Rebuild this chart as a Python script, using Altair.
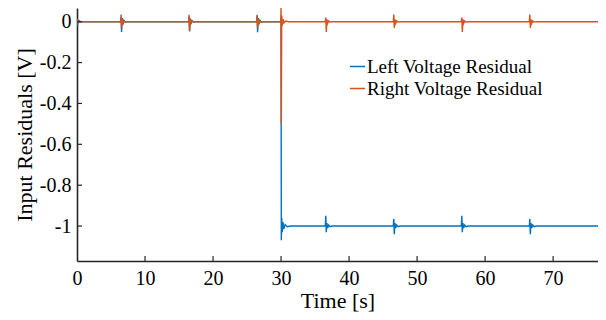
import altair as alt
import pandas as pd

# ---- data ----
left_t = [0, 0.1, 0.25, 0.5,
          6.4, 6.48, 6.55, 6.65, 6.75, 6.9, 7.1, 7.4,
          16.4, 16.48, 16.55, 16.65, 16.75, 16.9, 17.1, 17.4,
          26.4, 26.48, 26.55, 26.65, 26.75, 26.9, 27.1, 27.4,
          29.95, 30.0, 30.04, 30.1, 30.18, 30.28, 30.4, 30.6, 30.9, 31.4,
          36.5, 36.58, 36.65, 36.75, 36.85, 37.0, 37.2, 37.5,
          46.5, 46.58, 46.65, 46.75, 46.85, 47.0, 47.2, 47.5,
          56.5, 56.58, 56.65, 56.75, 56.85, 57.0, 57.2, 57.5,
          66.5, 66.58, 66.65, 66.75, 66.85, 67.0, 67.2, 67.5,
          76.6]
left_v = [0, -0.012, 0.006, 0,
          0, 0.02, -0.05, 0.018, -0.014, 0.007, -0.003, 0,
          0, 0.025, -0.048, 0.016, -0.012, 0.006, -0.002, 0,
          0, 0.03, -0.052, 0.018, -0.013, 0.007, -0.003, 0,
          0, 0.02, -1.07, -0.96, -1.03, -0.98, -1.015, -0.993, -1.003, -1.0,
          -1.0, -0.95, -1.03, -0.985, -1.01, -0.995, -1.003, -1.0,
          -1.0, -0.965, -1.04, -0.985, -1.01, -0.995, -1.003, -1.0,
          -1.0, -0.95, -1.03, -0.985, -1.01, -0.995, -1.003, -1.0,
          -1.0, -0.965, -1.04, -0.985, -1.01, -0.995, -1.003, -1.0,
          -1.0]

right_t = [0, 0.1, 0.25, 0.5,
           6.4, 6.48, 6.55, 6.65, 6.75, 6.9, 7.1, 7.4,
           16.4, 16.48, 16.55, 16.65, 16.75, 16.9, 17.1, 17.4,
           26.4, 26.48, 26.55, 26.65, 26.75, 26.9, 27.1, 27.4,
           29.95, 30.0, 30.04, 30.1, 30.18, 30.3, 30.45, 30.7, 31.1,
           36.5, 36.58, 36.65, 36.75, 36.85, 37.0, 37.2, 37.5,
           46.5, 46.58, 46.65, 46.75, 46.85, 47.0, 47.2, 47.5,
           56.5, 56.58, 56.65, 56.75, 56.85, 57.0, 57.2, 57.5,
           66.5, 66.58, 66.65, 66.75, 66.85, 67.0, 67.2, 67.5,
           76.6]
right_v = [0, 0.008, -0.004, 0,
           0, 0.035, -0.03, 0.012, -0.008, 0.004, -0.002, 0,
           0, 0.034, -0.045, 0.012, -0.008, 0.004, -0.002, 0,
           0, 0.034, -0.03, 0.012, -0.008, 0.004, -0.002, 0,
           0, 0.07, -0.5, 0.03, -0.02, 0.012, -0.006, 0.003, 0,
           0, 0.02, -0.05, 0.012, -0.008, 0.004, -0.002, 0,
           0, 0.035, -0.03, 0.012, -0.008, 0.004, -0.002, 0,
           0, 0.02, -0.05, 0.012, -0.008, 0.004, -0.002, 0,
           0, 0.035, -0.03, 0.012, -0.008, 0.004, -0.002, 0,
           0]

series_names = ["Left Voltage Residual", "Right Voltage Residual"]
series_colors = ["#0072BD", "#D95319"]

x_ticks = [0, 10, 20, 30, 40, 50, 60, 70]
y_ticks = [0, -0.2, -0.4, -0.6, -0.8, -1]

x_domain = [0, 76.6]
y_domain = [-1.171, 0.067]

W, H = 521, 253
FONT = "Liberation Serif"

df = pd.concat([
    pd.DataFrame({"t": left_t, "v": left_v, "s": series_names[0], "o": 0}),
    pd.DataFrame({"t": right_t, "v": right_v, "s": series_names[1], "o": 1}),
], ignore_index=True)

xs = alt.Scale(domain=x_domain, nice=False, zero=False)
ys = alt.Scale(domain=y_domain, nice=False, zero=False)

lines = alt.Chart(df).mark_line(strokeWidth=1.4, clip=True).encode(
    x=alt.X("t:Q", scale=xs, title="Time [s]",
            axis=alt.Axis(values=x_ticks, ticks=False, grid=False, labelPadding=7,
                          labelFlush=False, labelFont=FONT, labelFontSize=20,
                          titlePadding=2, titleFontSize=22)),
    y=alt.Y("v:Q", scale=ys, title="Input Residuals [V]",
            axis=alt.Axis(values=y_ticks, ticks=False, grid=False, labelPadding=6,
                          labelFont=FONT, labelFontSize=20,
                          titlePadding=3, titleFontSize=22,
                          labelExpr="datum.value == 0 ? '0' : '-' + format(abs(datum.value), '~g')")),
    color=alt.Color("s:N", scale=alt.Scale(domain=series_names, range=series_colors),
                    legend=alt.Legend(title=None, orient="none", legendX=271, legendY=49,
                                      symbolType="stroke", symbolSize=225,
                                      symbolStrokeWidth=1.5, labelFont=FONT,
                                      labelFontSize=19, labelColor="black",
                                      labelLimit=400, labelOffset=0, rowPadding=2,
                                      padding=0)),
    order="o:Q",
    detail="s:N",
)

xtick_df = pd.DataFrame({"t": [v for v in x_ticks if v != 0]})
ytick_df = pd.DataFrame({"v": y_ticks})

xtick_rules = alt.Chart(xtick_df).mark_rule(color="#262626", strokeWidth=1.2).encode(
    x=alt.X("t:Q", scale=xs), y=alt.value(H), y2=alt.value(H - 5))
ytick_rules = alt.Chart(ytick_df).mark_rule(color="#262626", strokeWidth=1.2).encode(
    y=alt.Y("v:Q", scale=ys), x=alt.value(0), x2=alt.value(5))

chart = alt.layer(lines, xtick_rules, ytick_rules).properties(
    width=W, height=H,
    autosize=alt.AutoSizeParams(type="none"),
    padding={"left": 69, "top": 0, "right": 0, "bottom": 58},
).configure_view(strokeWidth=0).configure_axis(
    domainColor="#262626", domainWidth=1.6,
    labelFont=FONT, labelColor="black",
    titleFont=FONT, titleColor="black", titleFontWeight="normal",
)

chart.save("out.html", embed_options={"renderer": "svg", "actions": False})
